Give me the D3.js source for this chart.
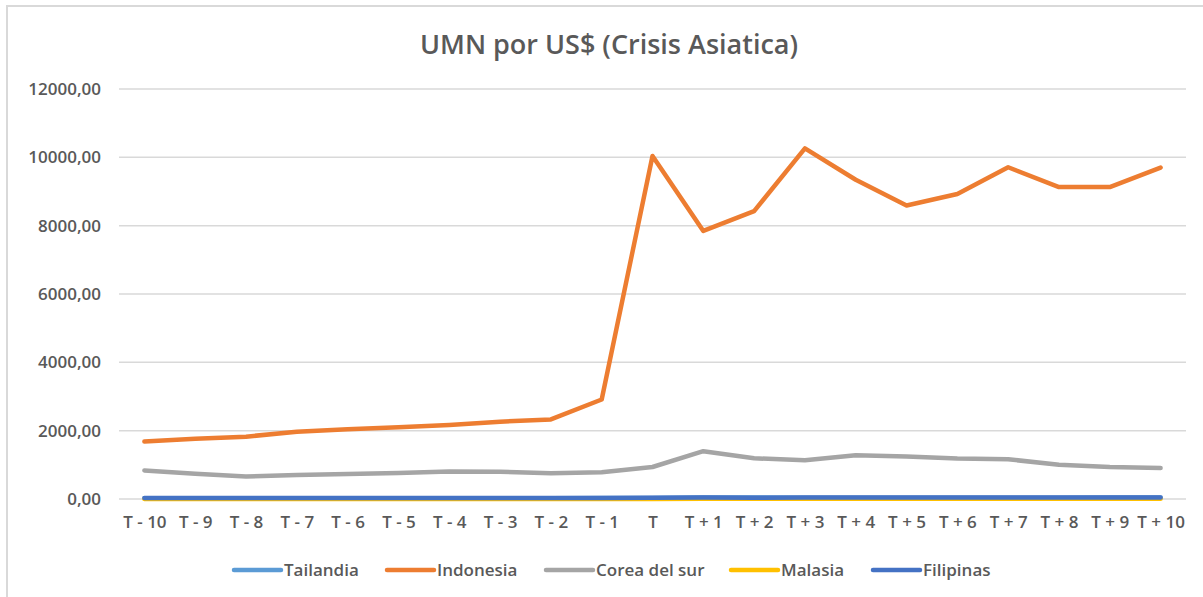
<!DOCTYPE html>
<meta charset="utf-8">
<head>
<style>
  body { margin: 0; background: #fff; }
  text { font-family: "Open Sans", sans-serif; fill: #595959; }
</style>
</head>
<body>
<div id="chart"></div>
<script src="https://d3js.org/d3.v7.min.js"></script>
<script>

var width = 1203,
    height = 597;

var categories = ['T - 10', 'T - 9', 'T - 8', 'T - 7', 'T - 6', 'T - 5', 'T - 4', 'T - 3', 'T - 2', 'T - 1', 'T',
                  'T + 1', 'T + 2', 'T + 3', 'T + 4', 'T + 5', 'T + 6', 'T + 7', 'T + 8', 'T + 9', 'T + 10'];

var seriesNames = ['Tailandia', 'Indonesia', 'Corea del sur', 'Malasia', 'Filipinas'];
var seriesColors = ['#5b9bd5', '#ed7d31', '#a5a5a5', '#ffc000', '#4472c4'];

// values (the three small ones sit under the blue line)
var tailandia = [25.3, 25.5, 25.6, 25.5, 25.3, 25.2, 25.3, 25.4, 25.6, 25.7, 31.4,
                 41.1, 47.3, 40.1, 37.9, 36.9, 38.6, 40.0, 39.5, 43.9, 42.6];
var indonesia = [1680, 1760, 1825, 1970, 2040, 2097, 2165, 2262, 2330, 2913, 10039,
                 7845, 8425, 10261, 9343, 8589, 8928, 9710, 9130, 9130, 9700];
var corea = [835, 740, 660, 700, 730, 760, 806, 800, 757, 786, 936,
             1399, 1192, 1133, 1281, 1241, 1182, 1162, 1005, 936, 906];
var malasia = [2.5, 2.5, 2.6, 2.6, 2.5, 2.5, 2.5, 2.6, 2.6, 2.8, 3.4,
               4.0, 3.9, 3.8, 3.8, 3.8, 3.8, 3.8, 3.8, 3.8, 3.8];
var filipinas = [26.2, 26.3, 26.2, 26.3, 26.2, 26.3, 26.3, 26.2, 26.3, 29.5, 34.0,
                 40.9, 39.1, 41.1, 42.2, 41.5, 40.4, 40.6, 41.7, 42.3, 42.0];

var seriesValues = [tailandia, indonesia, corea, malasia, filipinas];

var yTicks = [0, 2000, 4000, 6000, 8000, 10000, 12000];

var svg = d3.select('#chart').append('svg')
    .attr('width', width)
    .attr('height', height);

// chart area border
svg.append('rect')
    .attr('x', 7).attr('y', 6)
    .attr('width', width).attr('height', height)
    .style('fill', 'none')
    .style('stroke', '#d9d9d9')
    .style('stroke-width', 2);

var x = d3.scalePoint()
    .domain(categories)
    .range([119, 1186])
    .padding(0.5);

var y = d3.scaleLinear()
    .domain([0, 12000])
    .range([499, 89]);

var fmt = function(d) { return d3.format('.2f')(d).replace('.', ','); };

// gridlines
svg.append('g')
    .selectAll('line')
    .data(yTicks)
    .enter().append('line')
    .attr('x1', 119).attr('x2', 1186)
    .attr('y1', function(d) { return y(d); })
    .attr('y2', function(d) { return y(d); })
    .style('stroke', '#d9d9d9')
    .style('stroke-width', 1.5);

// y axis labels
var yAxis = svg.append('g')
    .attr('transform', 'translate(119,0)')
    .call(d3.axisLeft(y).tickValues(yTicks).tickFormat(fmt).tickSize(0).tickPadding(18));
yAxis.select('.domain').remove();
yAxis.selectAll('text')
    .style('font-family', '"Open Sans", sans-serif')
    .style('font-size', '17px')
    .style('font-weight', 600)
    .style('fill', '#595959');

// x axis labels
var xAxis = svg.append('g')
    .attr('transform', 'translate(0,499)')
    .call(d3.axisBottom(x).tickSize(0).tickPadding(17));
xAxis.select('.domain').remove();
xAxis.selectAll('text')
    .style('font-family', '"Open Sans", sans-serif')
    .style('font-size', '17px')
    .style('font-weight', 600)
    .style('fill', '#595959');

// lines
var line = d3.line()
    .x(function(d, i) { return x(categories[i]); })
    .y(function(d) { return y(d); });

svg.append('g')
    .selectAll('path')
    .data(seriesValues)
    .enter().append('path')
    .attr('d', line)
    .style('fill', 'none')
    .style('stroke', function(d, i) { return seriesColors[i]; })
    .style('stroke-width', 4.5)
    .style('stroke-linejoin', 'round')
    .style('stroke-linecap', 'round');

// title
svg.append('text')
    .attr('x', 609)
    .attr('y', 54)
    .attr('text-anchor', 'middle')
    .style('font-size', '27px')
    .style('font-weight', 600)
    .text('UMN por US$ (Crisis Asiatica)');

// legend
var legendX = [234, 387, 546, 731, 873];
var legend = svg.append('g')
    .selectAll('g')
    .data(seriesNames)
    .enter().append('g')
    .attr('transform', function(d, i) { return 'translate(' + legendX[i] + ',570)'; });

legend.append('line')
    .attr('x1', 0).attr('x2', 47)
    .style('stroke', function(d, i) { return seriesColors[i]; })
    .style('stroke-width', 4.5)
    .style('stroke-linecap', 'round');

legend.append('text')
    .attr('x', 50)
    .attr('dy', '0.35em')
    .style('font-size', '17px')
    .style('font-weight', 600)
    .text(function(d) { return d; });

// </script>
</body>
